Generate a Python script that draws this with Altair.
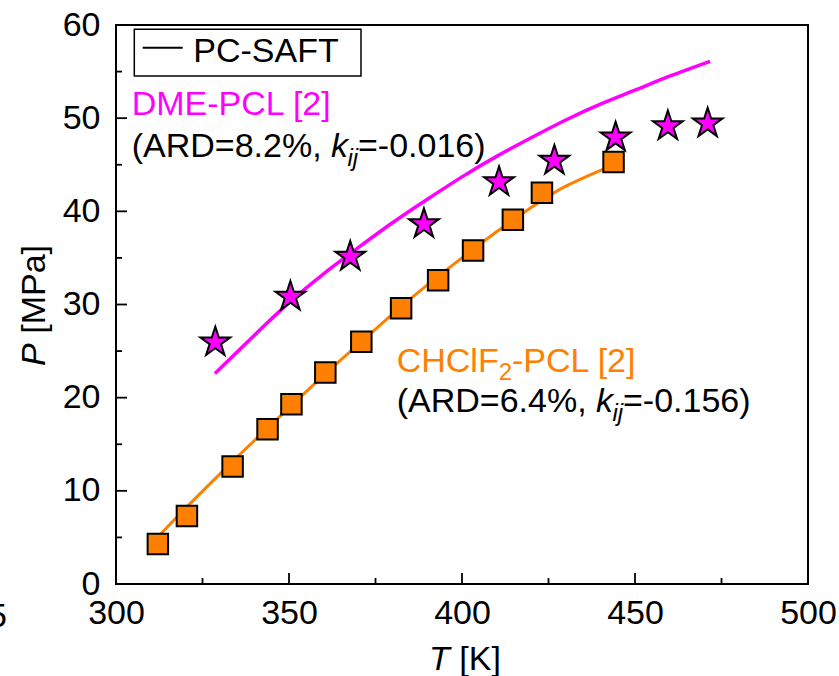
import math
import altair as alt
import pandas as pd

# ---------------- data ----------------
star_T = [328.7, 350.4, 367.7, 389.0, 410.7, 426.7, 444.4, 459.5, 471.0]
star_P = [26.1, 31.0, 35.3, 38.8, 43.3, 45.6, 48.1, 49.3, 49.6]
sq_T = [312.1, 320.5, 333.7, 343.8, 350.7, 360.5, 370.9, 382.4, 393.1, 403.2, 414.7, 423.1, 443.8]
sq_P = [4.3, 7.3, 12.6, 16.6, 19.3, 22.7, 26.0, 29.6, 32.6, 35.8, 39.1, 42.0, 45.3]
dme_T = [328.6, 340, 350, 360, 370, 380, 390, 400, 410, 420, 430, 440, 450, 460, 471.7]
dme_P = [22.6, 26.7, 30.2, 33.3, 36.1, 38.8, 41.3, 43.7, 45.9, 47.9, 49.8, 51.5, 53.0, 54.5, 56.1]
chc_T = [312.5, 320, 330, 340, 350, 360, 370, 380, 390, 400, 410, 420, 430, 443.8]
chc_P = [5.2, 8.1, 11.8, 15.4, 18.9, 22.4, 25.7, 29.0, 32.1, 35.0, 37.8, 40.4, 42.7, 45.0]

x_major = [300, 350, 400, 450, 500]
x_minor = [325, 375, 425, 475]
y_major = [0, 10, 20, 30, 40, 50, 60]
y_minor = [5, 15, 25, 35, 45, 55]

MAGENTA = "#FF00FF"
ORANGE = "#FF8000"
FONT = "Liberation Sans"
FS = 34
SUB = 24

W, H = 692, 559

# five-pointed star symbol path in unit coordinates
pts = []
for k in range(10):
    r = 1.0 if k % 2 == 0 else 0.382
    a = math.radians(-90 + 36 * k)
    pts.append(f"{r * math.cos(a):.4f},{r * math.sin(a) + 0.095:.4f}")
STAR = "M" + "L".join(pts) + "Z"

xs = alt.Scale(domain=[300, 500], nice=False, zero=False)
ys = alt.Scale(domain=[0, 60], nice=False, zero=False)

xax = alt.Axis(values=x_major, ticks=False, domain=False, grid=False, title=None,
               labelFont=FONT, labelFontSize=FS, labelColor="black", labelPadding=12,
               labelFlush=False, format="d")
yax = alt.Axis(values=y_major, ticks=False, domain=False, grid=False, title=None,
               labelFont=FONT, labelFontSize=FS, labelColor="black", labelPadding=16,
               labelFlush=False, format="d")

dme_line = alt.Chart(pd.DataFrame({"T": dme_T, "P": dme_P})).mark_line(
    color=MAGENTA, strokeWidth=3.5, interpolate="natural").encode(
    x=alt.X("T:Q", scale=xs, axis=xax), y=alt.Y("P:Q", scale=ys, axis=yax))
chc_line = alt.Chart(pd.DataFrame({"T": chc_T, "P": chc_P})).mark_line(
    color=ORANGE, strokeWidth=3, interpolate="natural").encode(
    x=alt.X("T:Q", scale=xs), y=alt.Y("P:Q", scale=ys))
sq_pts = alt.Chart(pd.DataFrame({"T": sq_T, "P": sq_P})).mark_point(
    shape="square", size=420, filled=True, fill=ORANGE, stroke="black",
    strokeWidth=2, opacity=1).encode(
    x=alt.X("T:Q", scale=xs), y=alt.Y("P:Q", scale=ys))
star_pts = alt.Chart(pd.DataFrame({"T": star_T, "P": star_P})).mark_point(
    shape=STAR, size=980, filled=True, fill=MAGENTA, stroke="black",
    strokeWidth=2, opacity=1).encode(
    x=alt.X("T:Q", scale=xs), y=alt.Y("P:Q", scale=ys))

# inward ticks
def xticks(vals, length):
    return alt.Chart(pd.DataFrame({"t": vals})).mark_rule(color="black", strokeWidth=1.8).encode(
        x=alt.X("t:Q", scale=xs), y=alt.value(H), y2=alt.value(H - length))

def yticks(vals, length):
    return alt.Chart(pd.DataFrame({"t": vals})).mark_rule(color="black", strokeWidth=1.8).encode(
        y=alt.Y("t:Q", scale=ys), x=alt.value(0), x2=alt.value(length))

def txt(s, x, y, size=FS, color="black", style="normal", align="left",
        baseline="alphabetic", angle=0):
    kw = dict(text=s, font=FONT, fontSize=size, color=color, fontStyle=style,
              align=align, baseline=baseline)
    if angle:
        kw["angle"] = angle
    return alt.Chart(pd.DataFrame({"a": [0]})).mark_text(**kw).encode(
        x=alt.value(x), y=alt.value(y))

legend_box = alt.Chart(pd.DataFrame({"a": [0]})).mark_rect(
    fill="white", stroke="black", strokeWidth=1.5).encode(
    x=alt.value(18.3), x2=alt.value(245), y=alt.value(4.3), y2=alt.value(51))
legend_line = alt.Chart(pd.DataFrame({"a": [0]})).mark_rule(
    color="black", strokeWidth=2).encode(
    x=alt.value(26.7), x2=alt.value(66.7), y=alt.value(22.7))

texts = [
    txt("PC-SAFT", 77.3, 36.7),
    txt("DME-PCL [2]", 15.7, 90, color=MAGENTA),
    txt("(ARD=8.2%, ", 15.7, 131.7),
    txt("k", 215, 131.7, style="italic"),
    txt("ij", 231.5, 141, size=SUB, style="italic"),
    txt("=-0.016)", 242, 131.7),
    txt("CHClF", 280.7, 346.7, color=ORANGE),
    txt("2", 382.7, 355, size=SUB, color=ORANGE),
    txt("-PCL [2]", 396, 346.7, color=ORANGE),
    txt("(ARD=6.4%, ", 280.7, 386.7),
    txt("k", 480, 386.7, style="italic"),
    txt("ij", 496.5, 396, size=SUB, style="italic"),
    txt("=-0.156)", 507, 386.7),
    # axis titles
    txt("T", 313, 645, style="italic"),
    txt("[K]", 343.3, 645),
    txt("P", -71, 341, style="italic", angle=270),
    txt("[MPa]", -71, 308.8, angle=270),
    # clipped label from neighbouring panel
    txt("275", -109, 575, align="right", baseline="top"),
]

chart = alt.layer(
    dme_line, chc_line,
    xticks(x_major, 11), xticks(x_minor, 6), yticks(y_major, 11), yticks(y_minor, 6),
    sq_pts, star_pts, legend_box, legend_line, *texts
).properties(
    width=W, height=H,
    autosize=alt.AutoSizeParams(type="none"),
    padding={"left": 116, "top": 25, "right": 31, "bottom": 92},
    background="white",
).configure_view(stroke="black", strokeWidth=2)

chart.save("out.html", embed_options={"renderer": "svg", "actions": False})
